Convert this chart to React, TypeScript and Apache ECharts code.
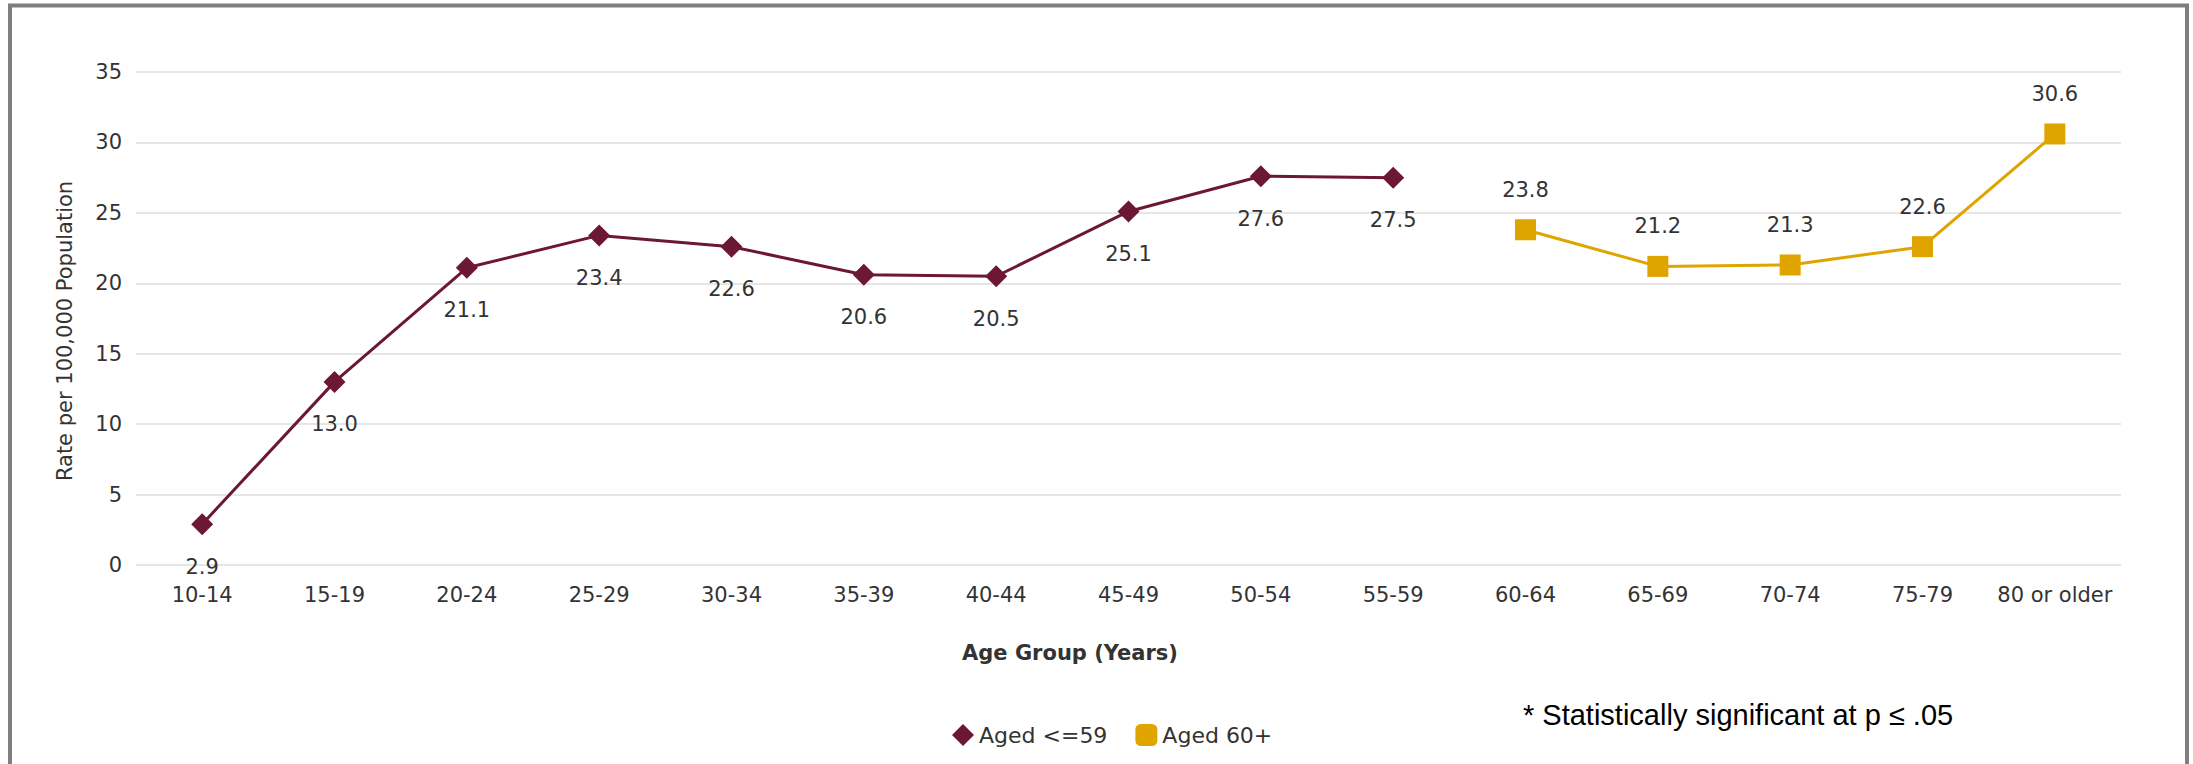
import React, { useEffect, useRef } from "react";
import * as echarts from "echarts";

const ageGroups = [
  "10-14", "15-19", "20-24", "25-29", "30-34", "35-39", "40-44", "45-49",
  "50-54", "55-59", "60-64", "65-69", "70-74", "75-79", "80 or older",
];
const under60Groups = ["10-14", "15-19", "20-24", "25-29", "30-34", "35-39", "40-44", "45-49", "50-54", "55-59"];
const under60Values = [2.9, 13.0, 21.1, 23.4, 22.6, 20.6, 20.5, 25.1, 27.6, 27.5];
const over60Groups = ["60-64", "65-69", "70-74", "75-79", "80 or older"];
const over60Values = [23.8, 21.2, 21.3, 22.6, 30.6];
const seriesNames = ["Aged <=59", "Aged 60+"];
const yAxisTitle = "Rate per 100,000 Population";
const xAxisTitle = "Age Group (Years)";
const footnote = "* Statistically significant at p \u2264 .05";

const MAROON = "#6c1733";
const GOLD = "#e0a400";
const FONT = "'DejaVu Sans', Verdana, sans-serif";

function toSeries(groups: string[], values: number[]) {
  return ageGroups.map((g) => {
    const i = groups.indexOf(g);
    return i >= 0 ? values[i] : "-";
  });
}

export default function App() {
  const ref = useRef<HTMLDivElement>(null);
  useEffect(() => {
    if (!ref.current) return;
    const chart = echarts.init(ref.current, undefined, { renderer: "svg" });
    const labelFmt = (p: any) => Number(p.value).toFixed(1);
    chart.setOption({
      animation: false,
      backgroundColor: "#ffffff",
      grid: { left: 136, right: 72, top: 72, bottom: 199, containLabel: false },
      legend: {
        left: 947,
        top: 719,
        itemWidth: 22,
        itemHeight: 22,
        itemGap: 28,
        textStyle: { fontFamily: FONT, fontSize: 22, color: "#333" },
        data: [
          { name: seriesNames[0], icon: "diamond" },
          { name: seriesNames[1], icon: "roundRect" },
        ],
      },
      xAxis: {
        type: "category",
        data: ageGroups,
        boundaryGap: true,
        axisLine: { show: false },
        axisTick: { show: false },
        axisLabel: { fontFamily: FONT, fontSize: 21, color: "#333", margin: 19, interval: 0 },
      },
      yAxis: {
        type: "value",
        min: 0,
        max: 35,
        interval: 5,
        axisLine: { show: false },
        axisTick: { show: false },
        axisLabel: { fontFamily: FONT, fontSize: 21, color: "#333", margin: 14 },
        splitLine: { lineStyle: { color: "#e6e6e6", width: 2 } },
      },
      series: [
        {
          name: seriesNames[0],
          type: "line",
          data: toSeries(under60Groups, under60Values),
          symbol: "diamond",
          symbolSize: 22,
          itemStyle: { color: MAROON },
          lineStyle: { color: MAROON, width: 3 },
          label: {
            show: true,
            position: "bottom",
            distance: 21,
            formatter: labelFmt,
            fontFamily: FONT,
            fontSize: 21,
            color: "#333",
          },
        },
        {
          name: seriesNames[1],
          type: "line",
          data: toSeries(over60Groups, over60Values),
          symbol: "rect",
          symbolSize: 21,
          itemStyle: { color: GOLD },
          lineStyle: { color: GOLD, width: 3 },
          label: {
            show: true,
            position: "top",
            distance: 19,
            formatter: labelFmt,
            fontFamily: FONT,
            fontSize: 21,
            color: "#333",
          },
        },
      ],
      graphic: [
        {
          type: "rect",
          shape: { x: 10, y: 5.5, width: 2177, height: 820 },
          style: { fill: "none", stroke: "#7f7f7f", lineWidth: 4 },
          silent: true,
        },
        {
          type: "text",
          x: 65,
          y: 331,
          rotation: Math.PI / 2,
          style: {
            text: yAxisTitle,
            fontFamily: FONT,
            fontSize: 21,
            fill: "#333",
            align: "center",
            verticalAlign: "middle",
          },
        },
        {
          type: "text",
          x: 1070,
          y: 653,
          style: {
            text: xAxisTitle,
            fontFamily: FONT,
            fontSize: 21,
            fontWeight: "bold",
            fill: "#333",
            align: "center",
            verticalAlign: "middle",
          },
        },
        {
          type: "text",
          x: 1523,
          y: 715,
          style: {
            text: footnote,
            fontFamily: "'Liberation Sans', Arial, sans-serif",
            fontSize: 29,
            fill: "#000",
            align: "left",
            verticalAlign: "middle",
          },
        },
      ],
    });
    return () => chart.dispose();
  }, []);
  return (
    <div
      ref={ref}
      style={{ position: "absolute", left: 0, top: 0, width: 2193, height: 764 }}
    />
  );
}
